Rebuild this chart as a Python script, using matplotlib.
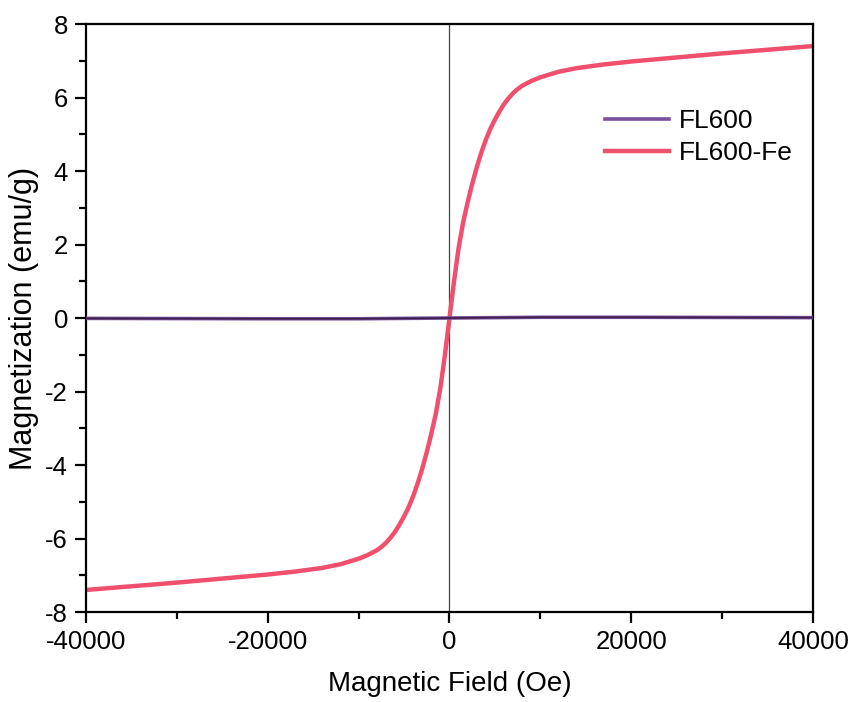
import matplotlib.pyplot as plt
from matplotlib.ticker import MultipleLocator

plt.rcParams['font.family'] = ['Liberation Sans', 'DejaVu Sans']
plt.rcParams['axes.unicode_minus'] = False

# FL600-Fe, positive branch (Oe, emu/g); negative branch is mirrored
field_pos = [0, 500, 1000, 1500, 2000, 2500, 3000, 3500, 4000, 4500, 5000,
             5500, 6000, 6500, 7000, 7500, 8000, 9000, 10000, 12000, 14000,
             17000, 20000, 25000, 30000, 35000, 40000]
mag_fe_pos = [0.0, 1.0, 1.9, 2.6, 3.15, 3.65, 4.1, 4.5, 4.85, 5.15, 5.4,
              5.62, 5.82, 5.98, 6.12, 6.23, 6.32, 6.45, 6.55, 6.7, 6.8,
              6.9, 6.98, 7.09, 7.2, 7.3, 7.4]

field_fl = [-40000, -20000, -10000, 0, 10000, 20000, 40000]
mag_fl = [-0.01, -0.02, -0.02, 0.0, 0.02, 0.02, 0.01]

field_fe = [-h for h in field_pos[:0:-1]] + field_pos
mag_fe = [-m for m in mag_fe_pos[:0:-1]] + mag_fe_pos


def main():
    fig = plt.figure(figsize=(8.53, 7.02), dpi=100)
    ax = fig.add_axes([0.1008, 0.1282, 0.8523, 0.8376])

    ax.axvline(0, color='#444444', lw=0.9, zorder=1)
    ax.plot(field_fl, mag_fl, color='#7B4F9E', lw=2.6, label='FL600',
            zorder=3)
    # dark core of the dense FL600 trace
    ax.plot(field_fl, mag_fl, color='#3A2048', lw=1.2, zorder=4)
    ax.plot(field_fe, mag_fe, color='#F0506E', lw=3.2, label='FL600-Fe',
            zorder=2)

    ax.set_xlim(-40000, 40000)
    ax.set_ylim(-8, 8)
    ax.xaxis.set_major_locator(MultipleLocator(20000))
    ax.xaxis.set_minor_locator(MultipleLocator(10000))
    ax.yaxis.set_major_locator(MultipleLocator(2))
    ax.yaxis.set_minor_locator(MultipleLocator(1))
    ax.tick_params(which='major', direction='out', length=8, width=1.6,
                   labelsize=18.5, pad=5)
    ax.tick_params(which='minor', direction='out', length=5, width=1.6)
    for s in ax.spines.values():
        s.set_linewidth(1.6)

    ax.set_xlabel('Magnetic Field (Oe)', fontsize=20, labelpad=12)
    ax.set_ylabel('Magnetization (emu/g)', fontsize=22, labelpad=4)

    ax.legend(loc='upper left', bbox_to_anchor=(0.70, 0.873),
              frameon=False, fontsize=19, handlelength=2.4,
              handletextpad=0.4, labelspacing=0.3, borderaxespad=0)

    fig.savefig('out.png', dpi=100)


if __name__ == '__main__':
    main()
